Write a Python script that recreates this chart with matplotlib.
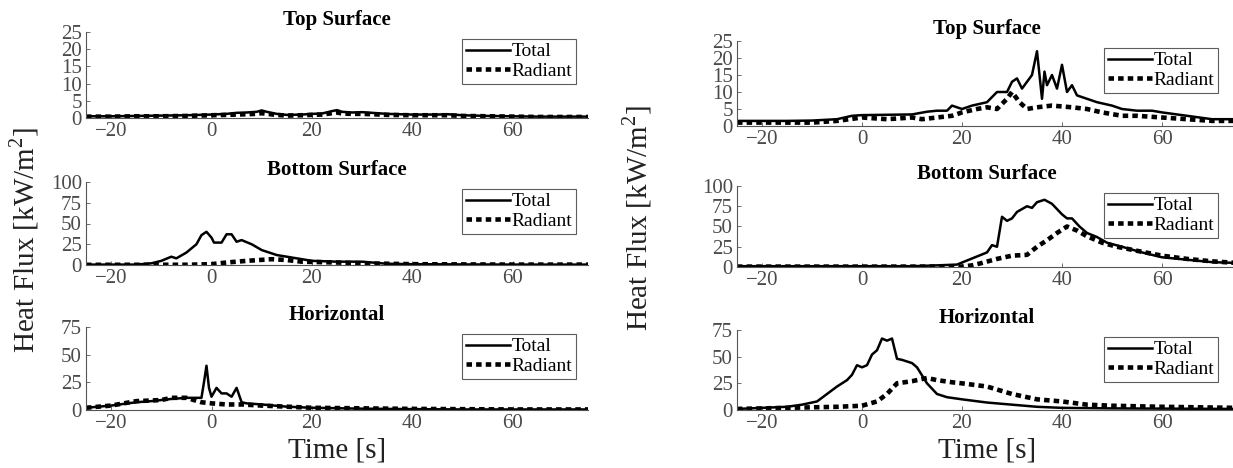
import matplotlib
matplotlib.use("Agg")
import matplotlib.pyplot as plt
import numpy as np

plt.rcParams['font.family'] = ['Liberation Serif', 'DejaVu Serif']
plt.rcParams['mathtext.fontset'] = 'custom'
plt.rcParams['mathtext.rm'] = 'Liberation Serif'

# ---------------- data ----------------
# Left column
L_top_t = [-25, -20, -15, -10, -5, 0, 3, 5, 7, 9, 10, 11, 13, 15, 18, 20, 22, 24, 25, 26, 28, 30, 32, 35, 40, 45, 47, 50, 55, 60, 65, 70, 75]
L_top_total = [0.5, 0.5, 0.6, 0.7, 0.8, 1.0, 1.2, 1.5, 1.6, 1.8, 2.2, 1.8, 1.2, 0.9, 1.0, 1.2, 1.3, 2.0, 2.3, 1.8, 1.6, 1.7, 1.5, 1.2, 1.0, 1.0, 1.1, 0.8, 0.6, 0.5, 0.4, 0.4, 0.4]
L_top_rad = [0.4, 0.4, 0.5, 0.5, 0.6, 0.8, 0.9, 1.0, 1.1, 1.2, 1.4, 1.2, 0.9, 0.7, 0.8, 0.9, 1.0, 1.4, 1.6, 1.3, 1.2, 1.2, 1.1, 0.9, 0.8, 0.8, 0.8, 0.6, 0.5, 0.4, 0.3, 0.3, 0.3]

L_bot_t = [-25, -15, -12, -10, -8, -7, -5, -3, -2, -1, 0, 0.5, 2, 3, 4, 5, 6, 8, 10, 13, 17, 20, 25, 30, 32, 35, 40, 50, 60, 75]
L_bot_total = [0.5, 0.5, 2, 5, 10, 8, 15, 25, 36, 40, 33, 27, 27, 37, 37, 28, 30, 25, 18, 12, 8, 5, 4, 4, 3, 1.5, 1, 0.7, 0.5, 0.5]
L_bot_rad_t = [-25, -5, 0, 3, 7, 12, 15, 18, 25, 30, 40, 50, 60, 75]
L_bot_rad = [0.2, 0.3, 1, 3, 5, 7, 6, 4, 3, 2, 1, 0.7, 0.5, 0.5]

L_hor_t = [-25, -20, -15, -12, -8, -5, -2, -1.5, -1, -0.5, 0, 1, 2, 3, 4, 5, 6, 7, 10, 15, 20, 30, 40, 50, 60, 75]
L_hor_total = [2, 4, 7, 8, 10, 11, 11, 25, 40, 20, 12, 20, 15, 15, 12, 20, 7, 6, 5, 3, 2, 1.2, 0.8, 0.5, 0.5, 0.5]
L_hor_rad_t = [-25, -20, -15, -10, -8, -5, -2, 0, 3, 6, 10, 15, 20, 30, 40, 60, 75]
L_hor_rad = [2, 4, 8, 9, 11, 11, 7, 6, 5, 5, 4, 3, 2, 1.5, 1, 0.5, 0.5]

# Right column
R_top_t = [-25, -15, -10, -5, -2, 0, 5, 10, 13, 15, 17, 18, 20, 22, 25, 27, 29, 30, 31, 32, 34, 35, 35.5, 36, 36.5, 37, 38, 39, 40, 41, 42, 43, 45, 47, 50, 52, 55, 58, 60, 65, 70, 75]
R_top_total = [1.5, 1.5, 1.6, 2.0, 3.0, 3.2, 3.3, 3.4, 4.2, 4.5, 4.5, 6.0, 5.0, 6.0, 7.0, 10, 10, 13, 14, 11, 15, 22, 15, 8, 16, 12, 15, 11, 18, 10, 12, 9, 8, 7, 6, 5, 4.5, 4.5, 4, 3, 2, 2]
R_top_rad_t = [-25, -15, -10, -5, 0, 5, 10, 12, 15, 18, 20, 23, 25, 27, 29, 30, 31.5, 33, 35, 38, 42, 45, 48, 52, 55, 60, 65, 70, 75]
R_top_rad = [1, 1, 1, 1.5, 2.5, 2, 2.5, 2, 2.5, 3, 4, 5, 5.5, 5, 8, 10, 7, 5, 5.5, 6, 5.5, 5, 4, 3, 3, 2.5, 2, 1.5, 1.5]

R_bot_t = [-25, 0, 10, 15, 19, 21, 23, 25, 26, 27, 28, 29, 30, 31, 33, 34, 35, 36.5, 38, 40, 41, 42, 43.5, 45, 47, 49, 52, 56, 60, 65, 70, 75]
R_bot_total = [1, 1, 1, 2, 3, 8, 13, 18, 27, 25, 62, 57, 60, 68, 75, 73, 80, 83, 78, 65, 60, 60, 50, 42, 37, 30, 25, 18, 12, 9, 6, 5]
R_bot_rad_t = [-25, 0, 20, 22, 24, 27, 30, 33, 35, 37, 39, 41, 43, 45, 48, 51, 55, 60, 65, 70, 75]
R_bot_rad = [0.5, 0.5, 0.5, 2, 5, 10, 14, 15, 25, 33, 42, 50, 45, 38, 30, 25, 20, 14, 10, 7, 5]

R_hor_t = [-25, -20, -15, -12, -9, -7, -5, -3, -2, -1, 0, 1, 2, 3, 4, 5, 6, 7, 8, 10, 11, 13, 15, 17, 20, 25, 30, 35, 40, 50, 75]
R_hor_total = [1, 2, 3, 5, 8, 15, 22, 28, 33, 42, 40, 42, 52, 56, 67, 65, 67, 48, 47, 44, 40, 25, 15, 12, 10, 7, 5, 3, 2, 1.5, 1]
R_hor_rad_t = [-25, -15, -5, 0, 3, 5, 7, 10, 13, 15, 18, 20, 25, 30, 35, 40, 45, 50, 60, 75]
R_hor_rad = [1, 2, 3, 4, 8, 15, 25, 27, 30, 28, 26, 25, 22, 15, 10, 8, 5, 4, 3, 2]

titles = ["Top Surface", "Bottom Surface", "Horizontal"]
ylims = [25, 100, 75]
yticks = [[0, 5, 10, 15, 20, 25], [0, 25, 50, 75, 100], [0, 25, 50, 75]]
xticks = [-20, 0, 20, 40, 60]

left_series = [
    (L_top_t, L_top_total, L_top_t, L_top_rad),
    (L_bot_t, L_bot_total, L_bot_rad_t, L_bot_rad),
    (L_hor_t, L_hor_total, L_hor_rad_t, L_hor_rad),
]
right_series = [
    (R_top_t, R_top_total, R_top_rad_t, R_top_rad),
    (R_bot_t, R_bot_total, R_bot_rad_t, R_bot_rad),
    (R_hor_t, R_hor_total, R_hor_rad_t, R_hor_rad),
]

W, H = 1233, 468
fig = plt.figure(figsize=(W / 100, H / 100), dpi=100)

def px_axes(x0, x1, ytop, ybot):
    return fig.add_axes([x0 / W, 1 - ybot / H, (x1 - x0) / W, (ybot - ytop) / H])

gray = '#555555'
left_rows = [(32, 118), (182, 265), (327, 410)]
right_rows = [(41, 126), (186, 267), (330, 410)]

def draw(col_x, rows, series, gap_x):
    axes = []
    aw = col_x[1] - col_x[0]
    for i, (yt, yb) in enumerate(rows):
        ax = px_axes(col_x[0], col_x[1], yt, yb)
        ah = yb - yt
        t1, v1, t2, v2 = series[i]
        ax.plot(t1, v1, color='black', lw=1.8, label='Total')
        ax.plot(t2, v2, color='black', lw=3.3, linestyle=(0, (1.2, 0.9)), label='Radiant')
        ax.set_xlim(-25, 75)
        ax.set_ylim(0, ylims[i])
        ax.set_yticks(yticks[i])
        ax.set_xticks(xticks)
        for s in ['top', 'right']:
            ax.spines[s].set_visible(False)
        for s in ['left', 'bottom']:
            ax.spines[s].set_color(gray)
            ax.spines[s].set_linewidth(0.8)
        ax.tick_params(direction='in', length=3, width=0.6, colors=gray,
                       labelsize=15, labelcolor='#4a4a4a', pad=3)
        ax.set_title(titles[i], fontsize=15, fontweight='bold', pad=5)
        leg = ax.legend(loc='upper right', fontsize=14, frameon=True, fancybox=False,
                        edgecolor='#333333', handlelength=2.3, handletextpad=0.05,
                        borderpad=0.2, labelspacing=0.1, borderaxespad=0,
                        bbox_to_anchor=(1 - gap_x / aw, 1 - 7 / ah))
        leg.get_frame().set_linewidth(0.8)
        axes.append(ax)
    return axes

la = draw((86, 588), left_rows, left_series, 12)
ra = draw((737, 1237), right_rows, right_series, 19)

la[2].set_xlabel("Time [s]", fontsize=21, labelpad=3, color='#222222')
ra[2].set_xlabel("Time [s]", fontsize=21, labelpad=3, color='#222222')

fig.text(24 / W, 1 - 240 / H, r"Heat Flux [kW/m$^{2}$]", rotation=90, fontsize=21,
         ha='center', va='center', color='#222222')
fig.text(637 / W, 1 - 218 / H, r"Heat Flux [kW/m$^{2}$]", rotation=90, fontsize=21,
         ha='center', va='center', color='#222222')

fig.savefig("out.png", dpi=100)
